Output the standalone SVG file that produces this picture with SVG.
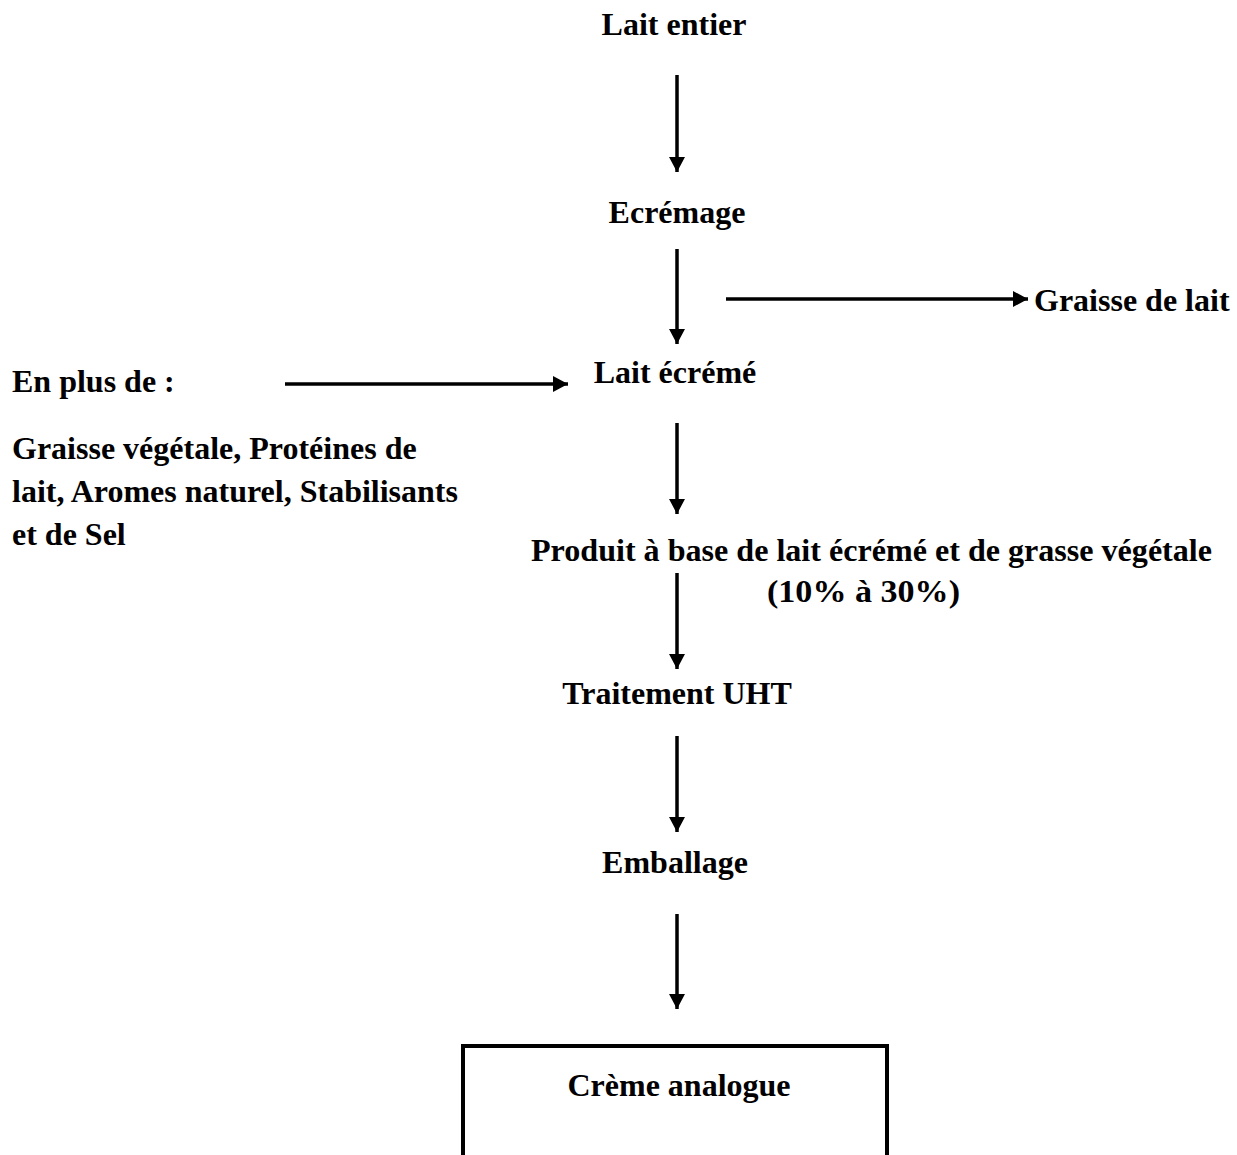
<svg xmlns="http://www.w3.org/2000/svg" width="1237" height="1155" viewBox="0 0 1237 1155">
<style>
.t{font-weight:700;font-size:32px;fill:#000}
.c{text-anchor:middle}
.ln{stroke:#000;stroke-width:3.5;fill:none}
</style>
<defs>
<marker id="ah" markerUnits="userSpaceOnUse" markerWidth="16" markerHeight="16" refX="15" refY="8" orient="auto">
<path d="M0,0 L15,8 L0,16 Z" fill="#000"/>
</marker>
</defs>
<rect width="1237" height="1155" fill="#fff"/>
<g id="connectors">
<line class="ln" x1="677" y1="75" x2="677" y2="172" marker-end="url(#ah)"/>
<line class="ln" x1="677" y1="249" x2="677" y2="344" marker-end="url(#ah)"/>
<line class="ln" x1="726" y1="299" x2="1028" y2="299" marker-end="url(#ah)"/>
<line class="ln" x1="285" y1="384" x2="568" y2="384" marker-end="url(#ah)"/>
<line class="ln" x1="677" y1="423" x2="677" y2="514" marker-end="url(#ah)"/>
<line class="ln" x1="677" y1="573" x2="677" y2="669" marker-end="url(#ah)"/>
<line class="ln" x1="677" y1="736" x2="677" y2="832" marker-end="url(#ah)"/>
<line class="ln" x1="677" y1="914" x2="677" y2="1009" marker-end="url(#ah)"/>
</g>
<g font-family="Liberation Serif, serif" class="t">
<g id="lait-entier"><text class="c" x="674" y="35">Lait entier</text></g>
<g id="ecremage"><text class="c" x="677" y="223">Ecrémage</text></g>
<g id="graisse-de-lait"><text x="1034" y="311">Graisse de lait</text></g>
<g id="lait-ecreme"><text class="c" x="675" y="383">Lait écrémé</text></g>
<g id="en-plus">
<text x="12" y="392">En plus de :</text>
<text x="12" y="459">Graisse végétale, Protéines de</text>
<text x="12" y="502">lait, Aromes naturel, Stabilisants</text>
<text x="12" y="545">et de Sel</text>
</g>
<g id="produit">
<text x="531" y="561" textLength="681" lengthAdjust="spacingAndGlyphs">Produit à base de lait écrémé et de grasse végétale</text>
<text x="767" y="602" textLength="193" lengthAdjust="spacingAndGlyphs">(10% à 30%)</text>
</g>
<g id="uht"><text class="c" x="677" y="704">Traitement UHT</text></g>
<g id="emballage"><text class="c" x="675" y="873">Emballage</text></g>
<g id="creme-analogue">
<rect x="463" y="1046" width="424" height="130" fill="none" stroke="#000" stroke-width="4"/>
<text class="c" x="679" y="1096">Crème analogue</text>
</g>
</g>
</svg>
